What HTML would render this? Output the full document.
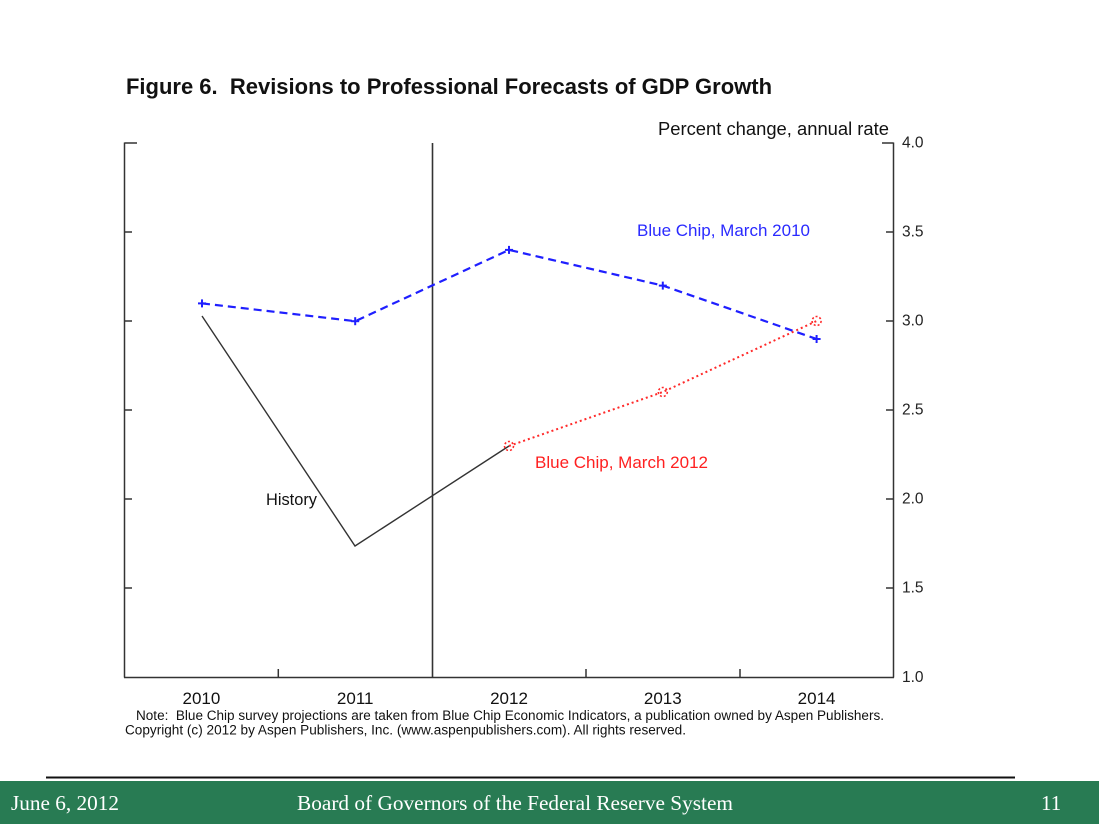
<!DOCTYPE html>
<html>
<head>
<meta charset="utf-8">
<style>
  html, body { margin: 0; padding: 0; background: #ffffff; }
  body { width: 1099px; height: 824px; overflow: hidden; }
  svg { display: block; }
</style>
</head>
<body>
<svg width="1099" height="824" viewBox="0 0 1099 824" xmlns="http://www.w3.org/2000/svg">
  <rect x="0" y="0" width="1099" height="824" fill="#ffffff"/>

  <!-- Title -->
  <text x="126" y="94" font-family="Liberation Sans, Arial, sans-serif" font-weight="bold" font-size="22" fill="#111" textLength="646" lengthAdjust="spacingAndGlyphs">Figure 6.&#160; Revisions to Professional Forecasts of GDP Growth</text>

  <!-- Unit label -->
  <text x="658" y="135" font-family="Liberation Sans, Arial, sans-serif" font-size="18" fill="#111" textLength="231" lengthAdjust="spacingAndGlyphs">Percent change, annual rate</text>

  <!-- Axes -->
  <g stroke="#333" stroke-width="1.5" fill="none">
    <line x1="124.5" y1="142.5" x2="124.5" y2="677.5"/>
    <line x1="893.5" y1="142.5" x2="893.5" y2="677.5"/>
    <line x1="124" y1="677.5" x2="894" y2="677.5"/>
    <!-- left ticks -->
    <line x1="124.5" y1="143" x2="137" y2="143"/>
    <line x1="124.5" y1="232" x2="132" y2="232"/>
    <line x1="124.5" y1="321" x2="132" y2="321"/>
    <line x1="124.5" y1="410" x2="132" y2="410"/>
    <line x1="124.5" y1="499" x2="132" y2="499"/>
    <line x1="124.5" y1="588" x2="132" y2="588"/>
    <!-- right ticks -->
    <line x1="882" y1="143" x2="893.5" y2="143"/>
    <line x1="886" y1="232" x2="893.5" y2="232"/>
    <line x1="886" y1="321" x2="893.5" y2="321"/>
    <line x1="886" y1="410" x2="893.5" y2="410"/>
    <line x1="886" y1="499" x2="893.5" y2="499"/>
    <line x1="886" y1="588" x2="893.5" y2="588"/>
    <!-- bottom ticks -->
    <line x1="278.3" y1="669" x2="278.3" y2="677.5"/>
    <line x1="586" y1="669" x2="586" y2="677.5"/>
    <line x1="740" y1="669" x2="740" y2="677.5"/>
  </g>

  <!-- vertical divider -->
  <line x1="432.5" y1="143" x2="432.5" y2="677.5" stroke="#333" stroke-width="1.6"/>

  <!-- Right tick labels -->
  <g font-family="Liberation Sans, Arial, sans-serif" font-size="15.5" fill="#222">
    <text x="902" y="147.5">4.0</text>
    <text x="902" y="236.5">3.5</text>
    <text x="902" y="325.5">3.0</text>
    <text x="902" y="414.5">2.5</text>
    <text x="902" y="503.5">2.0</text>
    <text x="902" y="592.5">1.5</text>
    <text x="902" y="682">1.0</text>
  </g>

  <!-- Year labels -->
  <g font-family="Liberation Sans, Arial, sans-serif" font-size="17" fill="#111" text-anchor="middle">
    <text x="201.4" y="704">2010</text>
    <text x="355.2" y="704">2011</text>
    <text x="509" y="704">2012</text>
    <text x="662.8" y="704">2013</text>
    <text x="816.6" y="704">2014</text>
  </g>

  <!-- Note -->
  <text x="136" y="720" font-family="Liberation Sans, Arial, sans-serif" font-size="13.5" fill="#111" textLength="748" lengthAdjust="spacingAndGlyphs">Note:&#160; Blue Chip survey projections are taken from Blue Chip Economic Indicators, a publication owned by Aspen Publishers.</text>
  <text x="125" y="734.5" font-family="Liberation Sans, Arial, sans-serif" font-size="13.5" fill="#111" textLength="561" lengthAdjust="spacingAndGlyphs">Copyright (c) 2012 by Aspen Publishers, Inc. (www.aspenpublishers.com). All rights reserved.</text>

  <!-- History line -->
  <polyline points="202,316 355,546 509,446" fill="none" stroke="#333" stroke-width="1.4"/>
  <text x="266" y="505" font-family="Liberation Sans, Arial, sans-serif" font-size="17" fill="#111" textLength="51" lengthAdjust="spacingAndGlyphs">History</text>

  <!-- Blue Chip March 2010 -->
  <polyline points="202,303.4 355.2,321.2 509,249.9 662.8,285.6 816.6,339" fill="none" stroke="#1f1fff" stroke-width="2.2" stroke-dasharray="8,5"/>
  <g stroke="#1f1fff" stroke-width="2">
    <line x1="198" y1="303.4" x2="206" y2="303.4"/><line x1="202" y1="299.4" x2="202" y2="307.4"/>
    <line x1="351.2" y1="321.2" x2="359.2" y2="321.2"/><line x1="355.2" y1="317.2" x2="355.2" y2="325.2"/>
    <line x1="505" y1="249.9" x2="513" y2="249.9"/><line x1="509" y1="245.9" x2="509" y2="253.9"/>
    <line x1="658.8" y1="285.6" x2="666.8" y2="285.6"/><line x1="662.8" y1="281.6" x2="662.8" y2="289.6"/>
    <line x1="812.6" y1="339" x2="820.6" y2="339"/><line x1="816.6" y1="335" x2="816.6" y2="343"/>
  </g>
  <text x="637" y="236" font-family="Liberation Sans, Arial, sans-serif" font-size="17" fill="#2a2aff" textLength="173" lengthAdjust="spacingAndGlyphs">Blue Chip, March 2010</text>

  <!-- Blue Chip March 2012 -->
  <polyline points="509,446 662.8,392 816.6,321" fill="none" stroke="#ff2a2a" stroke-width="2" stroke-dasharray="2,3"/>
  <g fill="none" stroke="#ff2a2a" stroke-width="1.6" stroke-dasharray="2,2">
    <circle cx="509" cy="446" r="4.5"/>
    <circle cx="662.8" cy="392" r="4.5"/>
    <circle cx="816.6" cy="321" r="4.5"/>
  </g>
  <text x="535" y="468" font-family="Liberation Sans, Arial, sans-serif" font-size="17" fill="#ff2020" textLength="173" lengthAdjust="spacingAndGlyphs">Blue Chip, March 2012</text>

  <!-- Footer -->
  <line x1="46" y1="777.5" x2="1015" y2="777.5" stroke="#111" stroke-width="2"/>
  <rect x="0" y="781" width="1099" height="43" fill="#287b53"/>
  <g font-family="Liberation Serif, Times New Roman, serif" font-size="21" fill="#ffffff">
    <text x="11" y="810" textLength="108" lengthAdjust="spacingAndGlyphs">June 6, 2012</text>
    <text x="297" y="810" textLength="436" lengthAdjust="spacingAndGlyphs">Board of Governors of the Federal Reserve System</text>
    <text x="1041" y="810">11</text>
  </g>
</svg>
</body>
</html>
